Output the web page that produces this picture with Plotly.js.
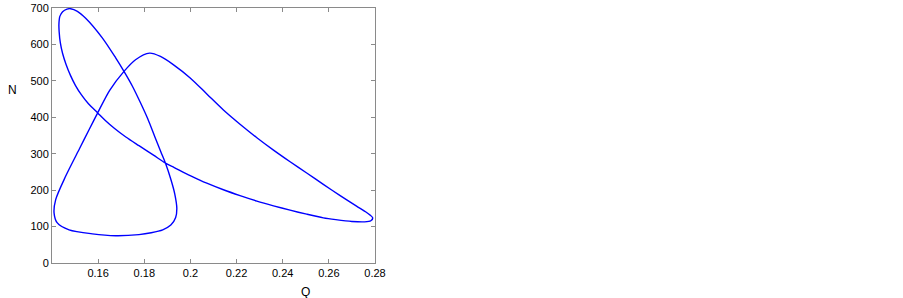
<!DOCTYPE html>
<html>
<head>
<meta charset="utf-8">
<script src="https://cdn.plot.ly/plotly-3.0.1.min.js"></script>
<style>html,body{margin:0;padding:0;background:#fff;}#chart{width:903px;height:298px;}</style>
</head>
<body>
<div id="chart"></div>
<script>
// Closed orbit in the (Q, N) plane
const qValues = [0.1676,0.1712,0.1748,0.1782,0.1815,0.1846,0.1872,0.1892,0.1915,0.1932,0.1941,0.1936,0.1915,0.1880,0.1830,0.1777,0.1676,0.1575,0.1474,0.1423,0.1409,0.1416,0.1459,0.1520,0.1560,0.1598,0.1650,0.1712,0.1762,0.1823,0.1870,0.1927,0.1999,0.2071,0.2143,0.2215,0.2288,0.2360,0.2432,0.2504,0.2576,0.2649,0.2720,0.2765,0.2790,0.2782,0.2755,0.2700,0.2630,0.2576,0.2504,0.2432,0.2360,0.2288,0.2215,0.2143,0.2071,0.1999,0.1930,0.1892,0.1840,0.1777,0.1720,0.1670,0.1630,0.1598,0.1558,0.1527,0.1502,0.1480,0.1461,0.1446,0.1436,0.1431,0.1430,0.1434,0.1446,0.1465,0.1481,0.1510,0.1546,0.1618,0.1676];
const nValues = [563,526,486,442,396,346,305,274,230,190,150,125,104,91,83,78,75,80,91,110,137,174,238,315,365,412,474,526,558,576,567,544,508,464,420,381,344,310,278,247,216,185,156,138,124,116,113,114,119,124,134,145,157,170,185,201,219,240,262,274,296,322,346,370,392,412,437,462,487,515,545,575,605,635,655,677,690,697,698,691,672,618,563];
const xTickVals = [0.16,0.18,0.2,0.22,0.24,0.26,0.28];
const xTickText = ['0.16','0.18','0.2','0.22','0.24','0.26','0.28'];
const yTickVals = [0,100,200,300,400,500,600,700];
const yTickText = ['0','100','200','300','400','500','600','700'];

const frame = '#8a8a8a';
const tickFont = {family:'Liberation Sans, Arial, sans-serif', size:11, color:'#000'};

Plotly.newPlot('chart', [{
  x: qValues, y: nValues, type:'scatter', mode:'lines',
  line:{color:'#0000ff', width:1.4, shape:'spline', smoothing:0.8},
  hoverinfo:'skip'
}], {
  width:903, height:298,
  margin:{l:52, r:528, t:8, b:35},
  paper_bgcolor:'#fff', plot_bgcolor:'#fff',
  showlegend:false,
  xaxis:{range:[0.14,0.28], tickvals:xTickVals, ticktext:xTickText,
    ticks:'inside', ticklen:4, tickcolor:frame, tickwidth:1,
    showline:true, linecolor:frame, linewidth:1, mirror:'ticks',
    showgrid:false, zeroline:false, tickfont:tickFont},
  yaxis:{range:[0,700], tickvals:yTickVals, ticktext:yTickText,
    ticks:'inside', ticklen:4, tickcolor:frame, tickwidth:1,
    showline:true, linecolor:frame, linewidth:1, mirror:'ticks',
    showgrid:false, zeroline:false, tickfont:tickFont},
  annotations:[
    {text:'Q', xref:'paper', yref:'paper', x:(305-52)/323, y:-0.115, xanchor:'center', yanchor:'middle',
     showarrow:false, font:{family:'Liberation Sans, Arial, sans-serif', size:12, color:'#000'}},
    {text:'N', xref:'paper', yref:'paper', x:-(52-12)/323, y:(263-90)/255, xanchor:'center', yanchor:'middle',
     showarrow:false, font:{family:'Liberation Sans, Arial, sans-serif', size:12, color:'#000'}}
  ]
}, {displayModeBar:false, staticPlot:true});
</script>
</body>
</html>
